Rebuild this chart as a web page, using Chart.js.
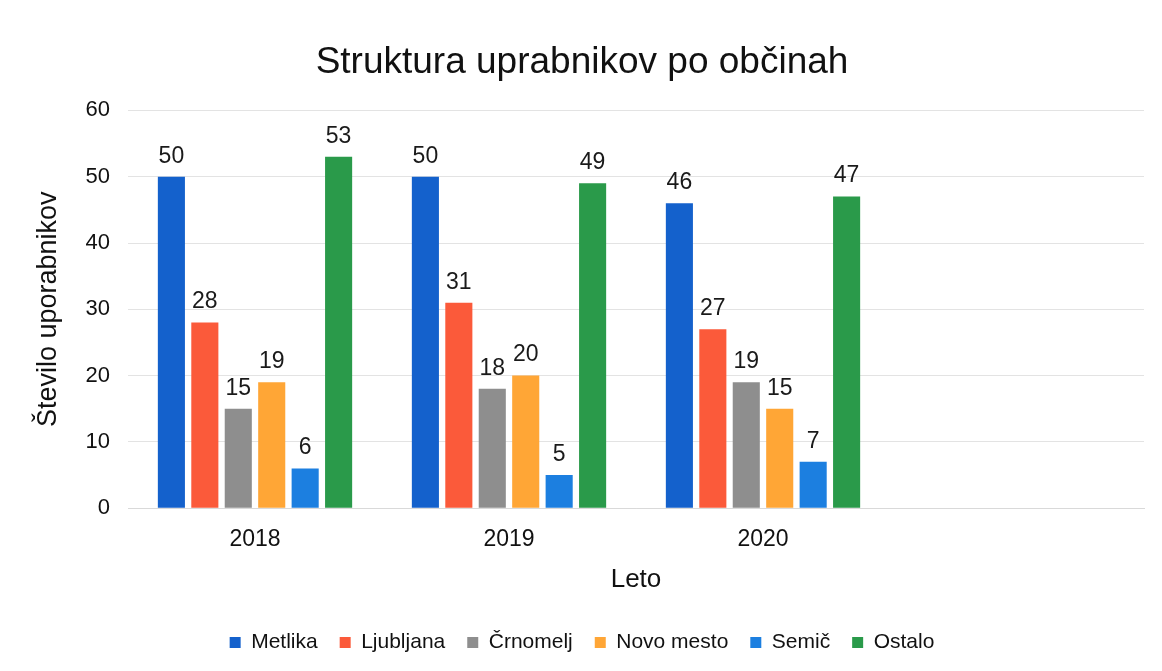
<!DOCTYPE html>
<html>
<head>
<meta charset="utf-8">
<script src="https://cdn.jsdelivr.net/npm/chart.js@4"></script>
<style>
  html, body { margin: 0; padding: 0; background: #fff; }
  #wrap { width: 1162px; height: 671px; }
</style>
</head>
<body>
<div id="wrap"><canvas id="chart"></canvas></div>
<script>
// data
const years = ["2018", "2019", "2020", ""];
const metlika = [50, 50, 46, null];
const ljubljana = [28, 31, 27, null];
const crnomelj = [15, 18, 19, null];
const novoMesto = [19, 20, 15, null];
const semic = [6, 5, 7, null];
const ostalo = [53, 49, 47, null];
const yTicks = [0, 10, 20, 30, 40, 50, 60];

const FONT = "'Liberation Sans', Arial, sans-serif";

// value labels on top of each bar
const barLabels = {
  id: "barLabels",
  afterDatasetsDraw(chart) {
    const ctx = chart.ctx;
    ctx.save();
    ctx.font = "23px " + FONT;
    ctx.fillStyle = "#1a1a1a";
    ctx.textAlign = "center";
    ctx.textBaseline = "bottom";
    chart.data.datasets.forEach((ds, i) => {
      const meta = chart.getDatasetMeta(i);
      meta.data.forEach((bar, j) => {
        const v = ds.data[j];
        if (v == null) return;
        ctx.fillText(v, bar.x, bar.y - 9);
      });
    });
    ctx.restore();
  }
};

function makeSet(label, data, color) {
  return {
    label: label,
    data: data,
    backgroundColor: color,
    borderWidth: 0,
    categoryPercentage: 0.79,
    barPercentage: 0.81
  };
}

new Chart(document.getElementById("chart"), {
  type: "bar",
  data: {
    labels: years,
    datasets: [
      makeSet("Metlika", metlika, "#1461cc"),
      makeSet("Ljubljana", ljubljana, "#fb5a3a"),
      makeSet("Črnomelj", crnomelj, "#8e8e8e"),
      makeSet("Novo mesto", novoMesto, "#ffa636"),
      makeSet("Semič", semic, "#1c7fe0"),
      makeSet("Ostalo", ostalo, "#2a9a4a")
    ]
  },
  options: {
    responsive: true,
    maintainAspectRatio: false,
    animation: false,
    layout: { padding: { top: 18, left: 20, right: 18, bottom: 8 } },
    plugins: {
      title: {
        display: true,
        text: "Struktura uprabnikov po občinah",
        color: "#111",
        font: { family: FONT, size: 37, weight: "normal" },
        padding: { top: 23, bottom: 25 }
      },
      legend: {
        position: "bottom",
        labels: {
          color: "#111",
          font: { family: FONT, size: 21 },
          boxWidth: 11,
          boxHeight: 11,
          padding: 22
        }
      },
      tooltip: { enabled: false }
    },
    scales: {
      x: {
        grid: { display: false },
        border: { color: "#d9d9d9" },
        ticks: { color: "#111", font: { family: FONT, size: 23 }, padding: 10 },
        title: {
          display: true,
          text: "Leto",
          color: "#111",
          font: { family: FONT, size: 26 },
          padding: { top: 0, bottom: 15 }
        }
      },
      y: {
        min: 0,
        max: 60,
        afterBuildTicks(axis) { axis.ticks = yTicks.map(v => ({ value: v })); },
        afterFit(axis) { axis.width = 108; },
        grid: { color: "#e3e3e3", drawTicks: false },
        border: { display: false },
        ticks: { color: "#111", font: { family: FONT, size: 22 }, padding: 18 },
        title: {
          display: true,
          text: "Število uporabnikov",
          color: "#111",
          font: { family: FONT, size: 27 },
          padding: { top: 12, bottom: 0 }
        }
      }
    }
  },
  plugins: [barLabels]
});
</script>
</body>
</html>
